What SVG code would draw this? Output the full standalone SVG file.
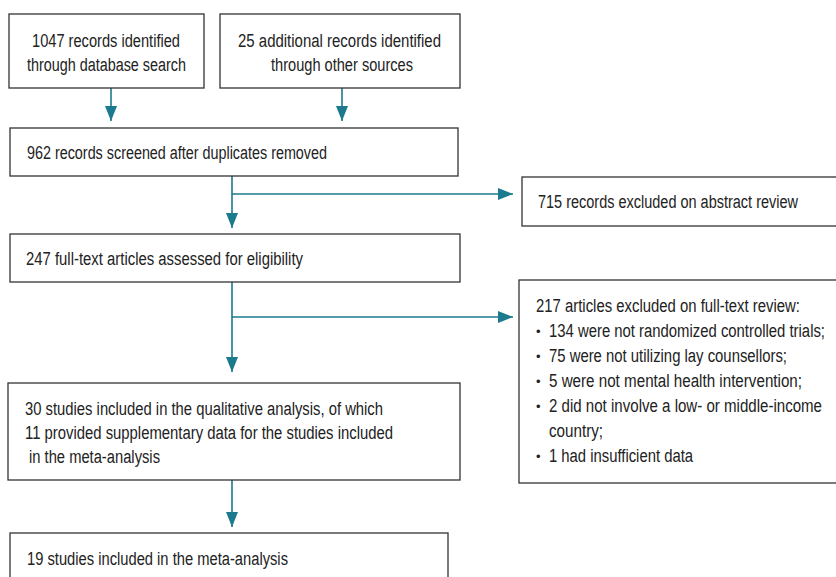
<svg xmlns="http://www.w3.org/2000/svg" width="836" height="577" viewBox="0 0 836 577">
<defs>
<style>
.box{fill:#fff;stroke:#333;stroke-width:1.3}
.t{font-family:"Liberation Sans",Arial,sans-serif;font-size:18px;fill:#222}
.b{font-family:"Liberation Sans",Arial,sans-serif;font-size:13px;fill:#222}
.c{fill:none;stroke:#1b7a8e;stroke-width:1.6}
</style>
<marker id="ahb" viewBox="0 0 15 12" refX="15" refY="6" markerWidth="15" markerHeight="12" markerUnits="userSpaceOnUse" orient="auto">
<path d="M0,0 L15,6 L0,12 Z" fill="#1b7a8e"/>
</marker>
</defs>
<rect width="836" height="577" fill="#fff"/>
<g id="connectors">
<line class="c" x1="111" y1="88" x2="111" y2="121" marker-end="url(#ahb)"/>
<line class="c" x1="342" y1="88" x2="342" y2="121" marker-end="url(#ahb)"/>
<line class="c" x1="232" y1="176" x2="232" y2="228" marker-end="url(#ahb)"/>
<line class="c" x1="232" y1="194" x2="513" y2="194" marker-end="url(#ahb)"/>
<line class="c" x1="232" y1="282" x2="232" y2="372" marker-end="url(#ahb)"/>
<line class="c" x1="232" y1="317" x2="513" y2="317" marker-end="url(#ahb)"/>
<line class="c" x1="232" y1="480" x2="232" y2="527" marker-end="url(#ahb)"/>
</g>
<g id="n1">
<rect class="box" x="9" y="14" width="195" height="74"/>
<text class="t" x="32" y="47" textLength="148" lengthAdjust="spacingAndGlyphs">1047 records identified</text>
<text class="t" x="27" y="71" textLength="159" lengthAdjust="spacingAndGlyphs">through database search</text>
</g>
<g id="n2">
<rect class="box" x="220" y="14" width="240" height="74"/>
<text class="t" x="238" y="47" textLength="203" lengthAdjust="spacingAndGlyphs">25 additional records identified</text>
<text class="t" x="271" y="71" textLength="142" lengthAdjust="spacingAndGlyphs">through other sources</text>
</g>
<g id="n3">
<rect class="box" x="10" y="128" width="448" height="48"/>
<text class="t" x="27" y="159" textLength="300" lengthAdjust="spacingAndGlyphs">962 records screened after duplicates removed</text>
</g>
<g id="n4">
<rect class="box" x="522" y="177" width="318" height="49"/>
<text class="t" x="538" y="208" textLength="260" lengthAdjust="spacingAndGlyphs">715 records excluded on abstract review</text>
</g>
<g id="n5">
<rect class="box" x="10" y="234" width="450" height="48"/>
<text class="t" x="26" y="265" textLength="277" lengthAdjust="spacingAndGlyphs">247 full-text articles assessed for eligibility</text>
</g>
<g id="n6">
<rect class="box" x="519" y="280" width="321" height="203"/>
<text class="t" x="536" y="312" textLength="264" lengthAdjust="spacingAndGlyphs">217 articles excluded on full-text review:</text>
<text class="b" x="536" y="336">•</text><text class="t" x="549" y="337" textLength="276" lengthAdjust="spacingAndGlyphs">134 were not randomized controlled trials;</text>
<text class="b" x="536" y="361">•</text><text class="t" x="549" y="362" textLength="238" lengthAdjust="spacingAndGlyphs">75 were not utilizing lay counsellors;</text>
<text class="b" x="536" y="386">•</text><text class="t" x="549" y="387" textLength="253" lengthAdjust="spacingAndGlyphs">5 were not mental health intervention;</text>
<text class="b" x="536" y="411">•</text><text class="t" x="549" y="412" textLength="273" lengthAdjust="spacingAndGlyphs">2 did not involve a low- or middle-income</text>
<text class="t" x="549" y="437" textLength="54" lengthAdjust="spacingAndGlyphs">country;</text>
<text class="b" x="536" y="461">•</text><text class="t" x="549" y="462" textLength="144" lengthAdjust="spacingAndGlyphs">1 had insufficient data</text>
</g>
<g id="n7">
<rect class="box" x="8" y="383" width="452" height="97"/>
<text class="t" x="25" y="415" textLength="358" lengthAdjust="spacingAndGlyphs">30 studies included in the qualitative analysis, of which</text>
<text class="t" x="25" y="439" textLength="368" lengthAdjust="spacingAndGlyphs">11 provided supplementary data for the studies included</text>
<text class="t" x="29" y="463" textLength="131" lengthAdjust="spacingAndGlyphs">in the meta-analysis</text>
</g>
<g id="n8">
<rect class="box" x="10" y="533" width="438" height="60"/>
<text class="t" x="27" y="565" textLength="261" lengthAdjust="spacingAndGlyphs">19 studies included in the meta-analysis</text>
</g>
</svg>
